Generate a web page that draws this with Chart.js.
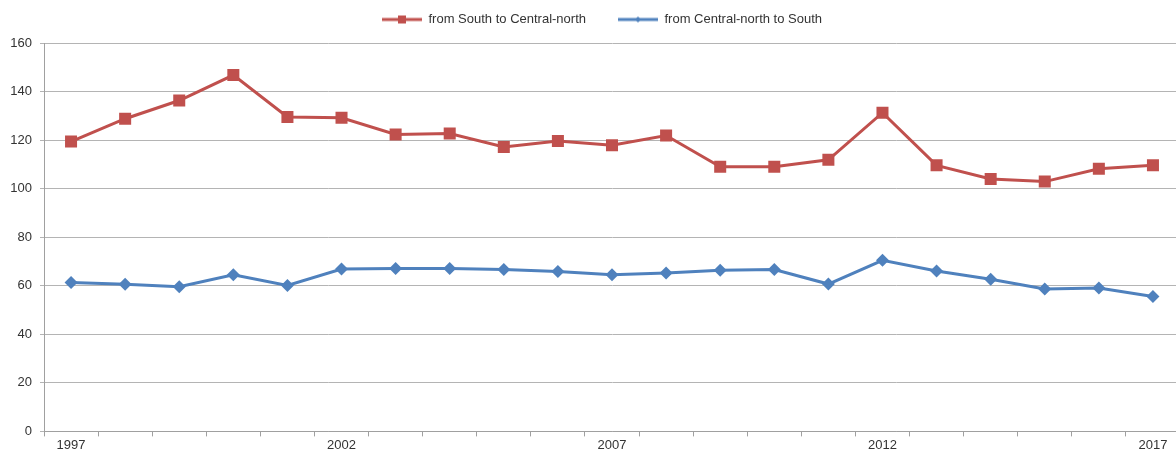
<!DOCTYPE html>
<html>
<head>
<meta charset="utf-8">
<script src="https://cdn.jsdelivr.net/npm/chart.js@4"></script>
<style>
    html, body { margin: 0; padding: 0; background: #fff; overflow: hidden; }
    #wrap { width: 1180px; height: 454px; }
</style>
</head>
<body>
<div id="wrap"><canvas id="chart-flows"></canvas></div>
<script>
const years = ['1997', '1998', '1999', '2000', '2001', '2002', '2003', '2004', '2005', '2006', '2007',
    '2008', '2009', '2010', '2011', '2012', '2013', '2014', '2015', '2016', '2017'];
const southToNorth = [119.4, 128.8, 136.3, 146.8, 129.5, 129.2, 122.3, 122.7, 117.2, 119.6, 117.9,
    121.9, 109.0, 109.0, 111.9, 131.3, 109.6, 104.0, 102.9, 108.2, 109.6];
const northToSouth = [61.3, 60.6, 59.6, 64.5, 60.1, 66.9, 67.1, 67.1, 66.7, 65.9, 64.5,
    65.3, 66.4, 66.7, 60.7, 70.5, 66.1, 62.7, 58.7, 59.1, 55.6];
const yTicks = [0, 20, 40, 60, 80, 100, 120, 140, 160];

const red = '#C0504D';
const blue = '#4F81BD';

// legend swatch: blank gap on the left, then a line with the marker in the middle
function legendSwatch(color, marker) {
    const c = document.createElement('canvas');
    c.width = 64;
    c.height = 12;
    const ctx = c.getContext('2d');
    ctx.strokeStyle = color;
    ctx.fillStyle = color;
    ctx.lineWidth = 3;
    ctx.beginPath();
    ctx.moveTo(24, 6);
    ctx.lineTo(64, 6);
    ctx.stroke();
    ctx.beginPath();
    if (marker === 'square') {
        ctx.rect(40, 2, 8, 8);
    } else {
        ctx.moveTo(44, 3);
        ctx.lineTo(47, 6);
        ctx.lineTo(44, 9);
        ctx.lineTo(41, 6);
        ctx.closePath();
    }
    ctx.fill();
    return c;
}

const swatches = [legendSwatch(red, 'square'), legendSwatch(blue, 'diamond')];

const legendHeight = {
    id: 'legendHeight',
    beforeInit(chart) {
        const fit = chart.legend.fit;
        chart.legend.fit = function () {
            fit.bind(chart.legend)();
            this.height = 38;
        };
    }
};

const chartFlows = new Chart(document.getElementById('chart-flows'), {
    type: 'line',
    data: {
        labels: years,
        datasets: [{
            label: 'from South to Central-north',
            data: southToNorth,
            borderColor: red,
            backgroundColor: red,
            borderWidth: 3,
            pointStyle: 'rect',
            pointRadius: 8.5,
            pointHoverRadius: 8.5,
            pointBorderWidth: 0,
            tension: 0,
        }, {
            label: 'from Central-north to South',
            data: northToSouth,
            borderColor: blue,
            backgroundColor: blue,
            borderWidth: 3,
            pointStyle: 'rectRot',
            pointRadius: 6.5,
            pointHoverRadius: 6.5,
            pointBorderWidth: 0,
            tension: 0,
        }]
    },
    options: {
        responsive: true,
        maintainAspectRatio: false,
        animation: false,
        layout: {
            autoPadding: false,
            padding: { top: 5, right: 0, bottom: 0, left: 0 }
        },
        scales: {
            x: {
                offset: true,
                afterFit: function (axis) {
                    axis.paddingLeft = 0;
                    axis.paddingRight = 0;
                },
                grid: {
                    offset: true,
                    drawOnChartArea: false,
                    tickLength: 5,
                    color: '#a0a0a0',
                },
                border: { color: '#a0a0a0' },
                ticks: {
                    autoSkip: false,
                    maxRotation: 0,
                    padding: 1,
                    color: '#333333',
                    font: { family: 'Liberation Sans', size: 13 },
                    callback: function (value, index) {
                        return index % 5 === 0 ? years[index] : '';
                    }
                }
            },
            y: {
                min: 0,
                max: 160,
                afterBuildTicks: function (axis) {
                    axis.ticks = yTicks.map(v => ({ value: v }));
                },
                afterFit: function (axis) {
                    axis.width = 44;
                },
                grid: {
                    color: '#b4b4b4',
                    tickLength: 4,
                },
                border: { color: '#a0a0a0' },
                ticks: {
                    padding: 8,
                    color: '#333333',
                    font: { family: 'Liberation Sans', size: 13 }
                }
            }
        },
        plugins: {
            legend: {
                display: true,
                labels: {
                    usePointStyle: true,
                    pointStyleWidth: 64,
                    padding: 8,
                    color: '#333333',
                    font: { family: 'Liberation Sans', size: 13 },
                    generateLabels: function (chart) {
                        const items = Chart.defaults.plugins.legend.labels.generateLabels(chart);
                        items.forEach((item, i) => { item.pointStyle = swatches[i]; });
                        return items;
                    }
                }
            },
            tooltip: { enabled: false }
        }
    },
    plugins: [legendHeight],
});
</script>
</body>
</html>
